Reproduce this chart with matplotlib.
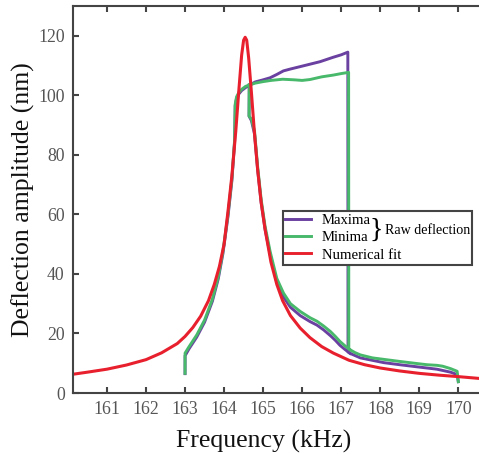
import matplotlib
matplotlib.use('Agg')
import matplotlib.pyplot as plt
from matplotlib.patches import Rectangle
from matplotlib.lines import Line2D

plt.rcParams['font.family'] = ['Liberation Serif', 'DejaVu Serif']

# ---------------- data ----------------
# Numerical fit
fit_f = [160.13, 160.5, 161.0, 161.5, 162.0, 162.4, 162.8, 163.0, 163.2, 163.4,
         163.6, 163.75, 163.88, 164.0, 164.1, 164.2, 164.3, 164.38, 164.45, 164.5,
         164.54, 164.58, 164.63, 164.7, 164.78, 164.86, 164.95, 165.05, 165.2, 165.35,
         165.5, 165.7, 165.95, 166.2, 166.5, 166.8, 167.2, 167.6, 168.0, 168.5,
         169.0, 169.5, 170.0, 170.53]
fit_a = [6.3, 7.0, 8.0, 9.4, 11.2, 13.5, 16.6, 19.0, 22.0, 25.8,
         31.0, 36.5, 42.5, 50.0, 61.0, 73.0, 88.0, 102.0, 113.5, 118.5,
         119.5, 118.5, 112.5, 101.0, 87.0, 75.0, 64.0, 55.0, 44.0, 36.5,
         31.0, 26.0, 21.8, 18.6, 15.6, 13.4, 11.0, 9.5, 8.4, 7.4,
         6.6, 6.0, 5.5, 4.9]

# Minima, sweep up (163 -> 170)
min_up_f = [163.0, 163.001, 163.1, 163.3, 163.5, 163.7, 163.85, 163.97, 164.1, 164.2,
            164.27, 164.285, 164.32, 164.38, 164.45, 164.55, 164.635, 164.8, 165.0, 165.2,
            165.5, 165.8, 166.0, 166.2, 166.5, 166.8, 167.0, 167.19, 167.195, 167.23,
            167.35, 167.49, 167.8, 168.09, 168.5, 168.94, 169.2, 169.45, 169.6, 169.8,
            169.97, 170.0]
min_up_a = [6.6, 13.4, 15.5, 19.5, 24.5, 31.5, 39.0, 47.5, 60.0, 72.0,
            85.0, 97.0, 99.5, 101.0, 102.0, 103.0, 103.4, 104.1, 104.6, 105.0,
            105.4, 105.2, 105.0, 105.3, 106.2, 106.8, 107.3, 107.7, 14.8, 14.5,
            13.6, 12.8, 11.8, 11.3, 10.6, 9.9, 9.5, 9.3, 9.0, 8.2,
            7.3, 3.8]
# Minima, sweep down (lower branch back to the jump at 164.64)
min_dn_f = [167.23, 167.1, 166.97, 166.85, 166.72, 166.55, 166.38, 166.2, 165.95, 165.7,
            165.52, 165.35, 165.18, 165.05, 164.95, 164.86, 164.78, 164.7, 164.64, 164.645]
min_dn_a = [14.5, 15.8, 17.3, 19.0, 20.7, 22.5, 24.1, 25.3, 27.4, 30.0,
            33.6, 38.5, 47.5, 56.0, 65.0, 76.0, 88.0, 92.0, 93.0, 103.5]

# Maxima, sweep up
max_up_f = [163.0, 163.001, 163.1, 163.3, 163.5, 163.7, 163.85, 163.97, 164.1, 164.2,
            164.27, 164.285, 164.32, 164.38, 164.45, 164.55, 164.65, 164.8, 165.0, 165.18,
            165.35, 165.52, 165.69, 166.0, 166.46, 166.8, 167.0, 167.17, 167.175, 167.23,
            167.49, 168.09, 168.5, 168.94, 169.45, 169.8, 169.97, 170.0]
max_up_a = [6.5, 12.5, 14.8, 18.8, 23.8, 30.8, 38.3, 46.8, 59.3, 71.3,
            84.5, 96.5, 99.0, 100.5, 101.6, 102.6, 103.4, 104.5, 105.2, 105.9,
            107.0, 108.2, 108.8, 109.8, 111.3, 112.8, 113.6, 114.5, 13.8, 13.3,
            11.8, 10.2, 9.5, 8.8, 8.0, 7.0, 6.2, 3.8]
# Maxima, sweep down
max_dn_f = [167.23, 167.1, 166.97, 166.85, 166.72, 166.55, 166.38, 166.2, 165.95, 165.7,
            165.52, 165.35, 165.18, 165.05, 164.95, 164.86, 164.78, 164.7, 164.64, 164.645]
max_dn_a = [13.3, 14.6, 16.0, 17.7, 19.3, 21.2, 22.8, 24.0, 26.0, 28.8,
            32.3, 37.2, 46.5, 55.0, 64.0, 75.0, 87.0, 91.5, 93.0, 103.5]

x_ticks = [161, 162, 163, 164, 165, 166, 167, 168, 169, 170]
y_ticks = [0, 20, 40, 60, 80, 100, 120]

c_max = '#6A40A0'
c_min = '#48B96B'
c_fit = '#E8202E'

# ---------------- figure ----------------
W, H = 479, 454
fig = plt.figure(figsize=(W / 100, H / 100), dpi=100)
ax = fig.add_axes([73 / W, 1 - 393 / H, (W - 73) / W, (393 - 6) / H])

lw = 2.1
ax.plot(max_up_f, max_up_a, color=c_max, lw=lw, zorder=2)
ax.plot(max_dn_f, max_dn_a, color=c_max, lw=lw, zorder=2)
ax.plot(min_up_f, min_up_a, color=c_min, lw=lw, zorder=2.1)
ax.plot(min_dn_f, min_dn_a, color=c_min, lw=lw, zorder=2.1)
ax.plot(fit_f, fit_a, color=c_fit, lw=2.2, zorder=2.2)

ax.set_xlim(160.13, 170.53)
ax.set_ylim(0, 130)
ax.set_xticks(x_ticks)
ax.set_yticks(y_ticks)

for s in ['left', 'bottom', 'top']:
    ax.spines[s].set_color('#444444')
    ax.spines[s].set_linewidth(1.5)
ax.spines['right'].set_visible(False)
ax.tick_params(direction='in', top=True, right=False, length=4, width=1.5,
               color='#444444', labelcolor='#555555', labelsize=12.8, pad=6)

ax.set_xlabel('Frequency (kHz)', fontsize=18.5, color='#111111')
ax.xaxis.set_label_coords((263.5 - 73) / (W - 73), -(441 - 393) / (393 - 6))
ax.xaxis.label.set_va('center')
ax.set_ylabel('Deflection amplitude (nm)', fontsize=18.5, color='#111111')
ax.yaxis.set_label_coords(-(73 - 23) / (W - 73), 0.5)
ax.yaxis.label.set_va('center')

# legend
box = Rectangle((283 / W, 1 - 265 / H), 189 / W, 54 / H, transform=fig.transFigure,
                facecolor='white', edgecolor='#444444', lw=1.5, zorder=4)
fig.patches.append(box)

handles = [Line2D([], [], color=c_max, lw=2.1),
           Line2D([], [], color=c_min, lw=2.1),
           Line2D([], [], color=c_fit, lw=2.1)]
leg = fig.legend(handles, ['Maxima', 'Minima', 'Numerical fit'],
                 loc='upper left', bbox_to_anchor=(285 / W, 1 - 214 / H),
                 frameon=False, fontsize=10.6, handlelength=1.75, handletextpad=0.75,
                 labelspacing=0.26, borderpad=0, borderaxespad=0)
leg.set_zorder(5)
fig.text(369 / W, 1 - 230 / H, '}', fontsize=20, va='center', ha='left', zorder=6)
fig.text(385 / W, 1 - 231 / H, 'Raw deflection', fontsize=10.1, va='center', ha='left', zorder=6)

fig.savefig('out.png', dpi=100)
